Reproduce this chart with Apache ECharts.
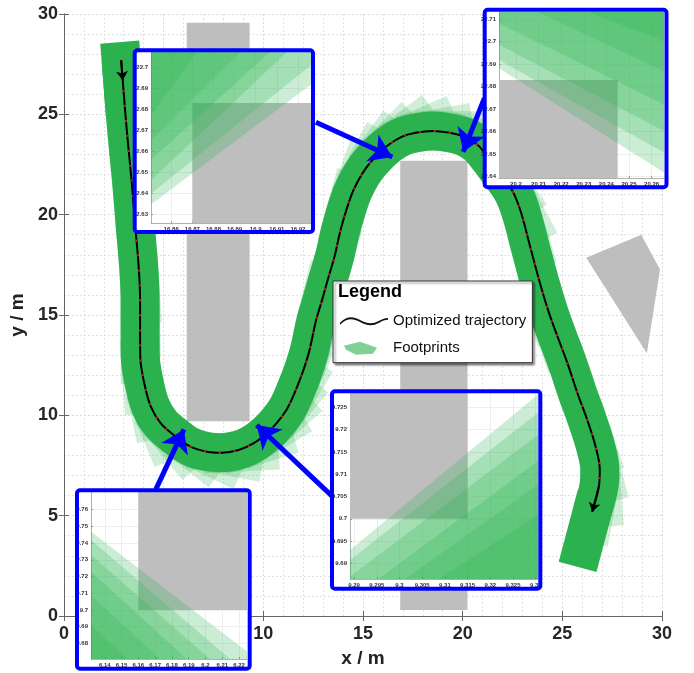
<!DOCTYPE html>
<html>
<head>
<meta charset="utf-8">
<title>Optimized trajectory and footprints</title>
<script src="https://cdn.jsdelivr.net/npm/echarts@6/dist/echarts.min.js"></script>
<style>
  html, body { margin: 0; padding: 0; background: #fff; }
  #chart { width: 694px; height: 673px; }
</style>
</head>
<body>
<div id="chart"></div>
<script>
// Trajectory samples in metres, from the top-left start.
const trajX = [2.87, 2.95, 3.08, 3.23, 3.42, 3.58, 3.75, 3.82, 3.82, 3.83, 4.03, 4.36, 4.86, 5.61,
  6.35, 7.18, 7.93, 8.76, 9.5, 10.17, 10.66, 11.16, 11.49, 11.83, 12.07, 12.32, 12.65, 12.9,
  13.23, 13.57, 13.9, 14.39, 14.73, 15.14, 15.64, 16.27, 16.97, 17.71, 18.49, 19.29, 20.08,
  20.7, 21.08, 21.75, 22.52, 22.94, 23.43, 23.93, 24.34, 24.76, 25.26, 25.76, 26.25, 26.67,
  26.88, 26.83, 26.5];
const trajY = [27.7, 26.7, 25.05, 23.39, 21.39, 19.4, 17.4, 15.75, 14.42, 12.92, 11.6, 10.43, 9.6, 8.94,
  8.44, 8.19, 8.14, 8.27, 8.6, 9.1, 9.6, 10.27, 10.93, 11.76, 12.42, 13.26, 14.75, 15.58,
  16.74, 17.9, 19.32, 20.9, 21.64, 22.31, 22.89, 23.47, 23.89, 24.09, 24.17, 24.09, 23.89,
  23.52, 23.12, 22.25, 21.14, 20.07, 18.24, 16.41, 15.08, 13.92, 12.59, 11.1, 9.77, 8.44,
  7.28, 6.44, 5.2];

// Obstacles (polygons, metres).
const obstacles = [
  [[6.16, 9.70], [9.315, 9.70], [9.315, 29.56], [6.16, 29.56]],
  [[16.87, 0.30], [20.245, 0.30], [20.245, 22.683], [16.87, 22.683]],
  [[26.2, 17.85], [28.96, 19.0], [29.9, 17.27], [29.24, 13.09]]
];

const mainTicks = [0, 5, 10, 15, 20, 25, 30];

// Vehicle outline around each trajectory point (metres).
const VEH_REAR = 0.9;
const VEH_FRONT = 2.85;
const VEH_HALF_W = 0.98;

// Callout arrows: [tail at zoom box, arrow tip].
const calloutArrows = [
  [[12.64, 24.61], [16.47, 22.87]],
  [[21.09, 25.81], [20.03, 23.13]],
  [[4.61, 6.31], [6.02, 9.30]],
  [[13.57, 5.86], [9.67, 9.52]]
];

// Zoomed views: axis ranges, tick labels and footprint edges [x1, y1, x2, y2].
const zoom1X = [16.8504, 16.9262];
const zoom1Y = [22.6259, 22.7073];
const zoom1XTicks = [16.86, 16.87, 16.88, 16.89, 16.9, 16.91, 16.92];
const zoom1YTicks = [22.63, 22.64, 22.65, 22.66, 22.67, 22.68, 22.69, 22.7];
const zoom1Edges = [
  [16.8504, 22.6347, 16.9263, 22.6919],
  [16.8504, 22.6400, 16.9263, 22.7011],
  [16.8504, 22.6463, 16.9149, 22.7074],
  [16.8504, 22.6560, 16.9069, 22.7074],
  [16.8504, 22.6650, 16.8927, 22.7074],
  [16.8504, 22.6770, 16.8722, 22.7074]
];

const zoom2X = [20.1925, 20.2655];
const zoom2Y = [22.6394, 22.7132];
const zoom2XTicks = [20.2, 20.21, 20.22, 20.23, 20.24, 20.25, 20.26];
const zoom2YTicks = [22.64, 22.65, 22.66, 22.67, 22.68, 22.69, 22.7, 22.71];
const zoom2Edges = [
  [20.1925, 22.6882, 20.2659, 22.6416],
  [20.1925, 22.6919, 20.2659, 22.6505],
  [20.1925, 22.6986, 20.2659, 22.6601],
  [20.1925, 22.7082, 20.2659, 22.6719],
  [20.2092, 22.7134, 20.2659, 22.6867],
  [20.2313, 22.7134, 20.2659, 22.7001]
];

const zoom3X = [6.1318, 6.2247];
const zoom3Y = [9.6706, 9.7706];
const zoom3XTicks = [6.14, 6.15, 6.16, 6.17, 6.18, 6.19, 6.2, 6.21, 6.22];
const zoom3YTicks = [9.68, 9.69, 9.7, 9.71, 9.72, 9.73, 9.74, 9.75, 9.76];
const zoom3Edges = [
  [6.1317, 9.7468, 6.2305, 9.6706],
  [6.1317, 9.7419, 6.2146, 9.6706],
  [6.1317, 9.7329, 6.2027, 9.6706],
  [6.1317, 9.7229, 6.1888, 9.6706],
  [6.1317, 9.7089, 6.1729, 9.6706],
  [6.1317, 9.6910, 6.1531, 9.6706]
];

const zoom4X = [9.2891, 9.3305];
const zoom4Y = [9.6865, 9.7282];
const zoom4XTicks = [9.29, 9.295, 9.3, 9.305, 9.31, 9.315, 9.32, 9.325, 9.33];
const zoom4YTicks = [9.69, 9.695, 9.7, 9.705, 9.71, 9.715, 9.72, 9.725];
const zoom4Edges = [
  [9.289, 9.6929, 9.3303, 9.7277],
  [9.289, 9.6907, 9.3303, 9.7236],
  [9.289, 9.6870, 9.3303, 9.7187],
  [9.2952, 9.6864, 9.3303, 9.7128],
  [9.3011, 9.6864, 9.3303, 9.7075],
  [9.3085, 9.6864, 9.3303, 9.7008]
];

const FONT = '"Liberation Sans", Arial, sans-serif';
const GREEN = '#2bb24f';
const GRAY = '#bebebe';
const BLUE = '#0000ff';

// pixel layout of the zoom boxes: plot rect and blue frame
const zoomViews = [
  { x: zoom1X, y: zoom1Y, xt: zoom1XTicks, yt: zoom1YTicks, edges: zoom1Edges, corner: [-1, 1],
    grid: [151, 52, 160, 171], frame: [134.7, 50.3, 178.3, 181.7] },
  { x: zoom2X, y: zoom2Y, xt: zoom2XTicks, yt: zoom2YTicks, edges: zoom2Edges, corner: [1, 1],
    grid: [499, 12, 165, 166], frame: [484.7, 9.7, 181.8, 177.5] },
  { x: zoom3X, y: zoom3Y, xt: zoom3XTicks, yt: zoom3YTicks, edges: zoom3Edges, corner: [-1, -1],
    grid: [91, 492, 156, 167], frame: [77, 490.3, 172.7, 178.4] },
  { x: zoom4X, y: zoom4Y, xt: zoom4XTicks, yt: zoom4YTicks, edges: zoom4Edges, corner: [1, -1],
    grid: [350, 393, 188, 186], frame: [332, 391.2, 208.3, 197.6] }
];

const trajPoints = trajX.map((x, i) => [x, trajY[i]]);
const last = trajX.length - 1;

// Sutherland-Hodgman against one half-plane f(p) >= 0
function clipHalf(poly, f) {
  const res = [];
  for (let i = 0; i < poly.length; i++) {
    const a = poly[i], b = poly[(i + 1) % poly.length];
    const fa = f(a), fb = f(b);
    if (fa >= 0) res.push(a);
    if ((fa >= 0) !== (fb >= 0)) {
      const t = fa / (fa - fb);
      res.push([a[0] + t * (b[0] - a[0]), a[1] + t * (b[1] - a[1])]);
    }
  }
  return res;
}

function clipToView(poly, v) {
  let out = poly;
  out = clipHalf(out, p => p[0] - v.x[0]);
  out = clipHalf(out, p => v.x[1] - p[0]);
  out = clipHalf(out, p => p[1] - v.y[0]);
  out = clipHalf(out, p => v.y[1] - p[1]);
  return out;
}

function viewBox(v) {
  return [[v.x[0], v.y[0]], [v.x[1], v.y[0]], [v.x[1], v.y[1]], [v.x[0], v.y[1]]];
}

// anchor values inside a view so the items are not dropped as out of range
function anchors(xr, yr, n) {
  const c = [(xr[0] + xr[1]) / 2, (yr[0] + yr[1]) / 2];
  return Array.from({ length: n }, () => c.slice());
}

function polygonEl(points, api, fill) {
  if (points.length < 3) return null;
  return { type: 'polygon', shape: { points: points.map(p => api.coord(p)) }, style: { fill: fill } };
}

function obstacleItem(params, api) {
  return polygonEl(obstacles[params.dataIndex], api, GRAY);
}

// one translucent vehicle rectangle per trajectory sample
function footprintItem(params, api) {
  const i = params.dataIndex;
  const a = Math.max(i - 1, 0), b = Math.min(i + 1, last);
  let hx = trajX[b] - trajX[a], hy = trajY[b] - trajY[a];
  const len = Math.hypot(hx, hy);
  hx /= len; hy /= len;
  const px = trajX[i], py = trajY[i];
  const pt = (s, t) => api.coord([px + hx * s - hy * t, py + hy * s + hx * t]);
  const solid = i === 0 || i === last;
  return {
    type: 'polygon',
    shape: { points: [pt(-VEH_REAR, -VEH_HALF_W), pt(VEH_FRONT, -VEH_HALF_W),
                      pt(VEH_FRONT, VEH_HALF_W), pt(-VEH_REAR, VEH_HALF_W)] },
    style: { fill: GREEN, opacity: solid ? 1 : 0.22 }
  };
}

function zoomObstacleItem(v) {
  return (params, api) => polygonEl(clipToView(obstacles[params.dataIndex], v), api, GRAY);
}

// region on the footprint side of one edge, cut to the zoom window
function zoomLayerItem(v) {
  return (params, api) => {
    const [x1, y1, x2, y2] = v.edges[params.dataIndex];
    const side = (p) => (x2 - x1) * (p[1] - y1) - (y2 - y1) * (p[0] - x1);
    const cx = v.corner[0] < 0 ? v.x[0] : v.x[1];
    const cy = v.corner[1] < 0 ? v.y[0] : v.y[1];
    const s = side([cx, cy]) >= 0 ? 1 : -1;
    const poly = clipHalf(viewBox(v), p => s * side(p));
    return polygonEl(poly, api, 'rgba(43,178,79,0.24)');
  };
}

// white backing and blue frame of each zoom box (pixel layout)
function frameItem(fill, stroke) {
  return (params) => {
    const f = zoomViews[params.dataIndex].frame;
    return {
      type: 'rect',
      shape: { x: f[0], y: f[1], width: f[2], height: f[3], r: 3 },
      style: stroke ? { fill: 'none', stroke: stroke, lineWidth: 4 } : { fill: fill }
    };
  };
}

const grids = [{ left: 59, top: 14, width: 603, height: 602 }];
const xAxes = [
  {
    gridIndex: 0, type: 'value', min: 0, max: 30, interval: 5,
    name: 'x / m', nameLocation: 'middle', nameGap: 33,
    nameTextStyle: { fontFamily: FONT, fontSize: 19, fontWeight: 'bold', color: '#222' },
    axisLine: { lineStyle: { color: '#666' } },
    axisTick: { inside: true, length: 5, lineStyle: { color: '#666' } },
    axisLabel: { customValues: mainTicks, fontFamily: FONT, fontSize: 18, fontWeight: 'bold', color: '#262626', margin: 9 },
    splitLine: { lineStyle: { color: '#dadada', type: [2, 2] } },
    minorTick: { show: false, splitNumber: 5 },
    minorSplitLine: { show: true, lineStyle: { color: '#e2e2e2', type: [2, 2] } }
  },
  {
    gridIndex: 0, type: 'value', position: 'top', min: 0, max: 30, interval: 5,
    axisLine: { lineStyle: { color: '#666' } },
    axisTick: { inside: true, length: 5, lineStyle: { color: '#666' } },
    axisLabel: { show: false }, splitLine: { show: false }
  }
];
const yAxes = [
  {
    gridIndex: 0, type: 'value', min: 0, max: 30, interval: 5,
    name: 'y / m', nameLocation: 'middle', nameGap: 29, nameRotate: 90,
    nameTextStyle: { fontFamily: FONT, fontSize: 19, fontWeight: 'bold', color: '#222' },
    axisLine: { lineStyle: { color: '#666' } },
    axisTick: { inside: true, length: 5, lineStyle: { color: '#666' } },
    axisLabel: { customValues: mainTicks, fontFamily: FONT, fontSize: 18, fontWeight: 'bold', color: '#262626', margin: 6 },
    splitLine: { lineStyle: { color: '#dadada', type: [2, 2] } },
    minorTick: { show: false, splitNumber: 5 },
    minorSplitLine: { show: true, lineStyle: { color: '#e2e2e2', type: [2, 2] } }
  },
  {
    gridIndex: 0, type: 'value', position: 'right', min: 0, max: 30, interval: 5,
    axisLine: { lineStyle: { color: '#666' } },
    axisTick: { inside: true, length: 5, lineStyle: { color: '#666' } },
    axisLabel: { show: false }, splitLine: { show: false }
  }
];

const series = [
  { type: 'custom', name: 'Obstacles', xAxisIndex: 0, yAxisIndex: 0, z: 1, silent: true,
    data: anchors([0, 30], [0, 30], obstacles.length), renderItem: obstacleItem },
  { type: 'line', name: 'Footprints', xAxisIndex: 0, yAxisIndex: 0, z: 2, silent: true,
    data: trajPoints, smooth: 0.35, showSymbol: false,
    lineStyle: { color: GREEN, width: 39, cap: 'butt', join: 'round' } },
  { type: 'custom', name: 'Footprints', xAxisIndex: 0, yAxisIndex: 0, z: 2, silent: true,
    data: trajPoints, encode: { x: 0, y: 1 }, renderItem: footprintItem },
  { type: 'line', name: 'Optimized trajectory', xAxisIndex: 0, yAxisIndex: 0, z: 3, silent: true,
    data: trajPoints, smooth: 0.35, showSymbol: false,
    lineStyle: { color: '#000', width: 2 } },
  { type: 'line', name: 'Optimized trajectory', xAxisIndex: 0, yAxisIndex: 0, z: 3, silent: true,
    data: trajPoints, smooth: 0.35, showSymbol: false,
    lineStyle: { color: '#e8141b', width: 2, type: [2, 13] } },
  { type: 'lines', coordinateSystem: 'cartesian2d', xAxisIndex: 0, yAxisIndex: 0, z: 4, silent: true,
    data: [{ coords: [trajPoints[0], trajPoints[1]] }, { coords: [trajPoints[last - 1], trajPoints[last]] }],
    symbol: ['none', 'arrow'], symbolSize: [0, 9],
    lineStyle: { color: '#000', width: 2, opacity: 1 } },
  { type: 'lines', coordinateSystem: 'cartesian2d', xAxisIndex: 0, yAxisIndex: 0, z: 9, silent: true,
    data: calloutArrows.map(c => ({ coords: c })),
    symbol: ['none', 'arrow'], symbolSize: [0, 22],
    lineStyle: { color: BLUE, width: 5, opacity: 1 } },
  { type: 'custom', xAxisIndex: 0, yAxisIndex: 0, z: 10, silent: true,
    data: anchors([0, 30], [0, 30], zoomViews.length), renderItem: frameItem('#fff', null) },
  { type: 'custom', xAxisIndex: 0, yAxisIndex: 0, z: 15, silent: true,
    data: anchors([0, 30], [0, 30], zoomViews.length), renderItem: frameItem(null, BLUE) }
];

zoomViews.forEach((v, k) => {
  const gi = k + 1;          // grid index of this zoom view
  const ai = k + 2;          // axis index (0 and 1 are the main plot's axes)
  grids.push({ left: v.grid[0], top: v.grid[1], width: v.grid[2], height: v.grid[3] });
  // axes sit between the white backing (z 10) and the zoom marks (z 11)
  const axisCommon = {
    gridIndex: gi, type: 'value', z: 10.5,
    axisLine: { lineStyle: { color: '#b0b0b0' } },
    splitLine: { show: true, lineStyle: { color: '#eeeeee' } }
  };
  xAxes.push(Object.assign({}, axisCommon, {
    min: v.x[0], max: v.x[1],
    axisTick: { inside: true, length: 2, customValues: v.xt, lineStyle: { color: '#999' } },
    axisLabel: { customValues: v.xt, fontFamily: FONT, fontSize: 6, fontWeight: 'bold', color: '#333', margin: 3 }
  }));
  yAxes.push(Object.assign({}, axisCommon, {
    min: v.y[0], max: v.y[1],
    axisTick: { inside: true, length: 2, customValues: v.yt, lineStyle: { color: '#999' } },
    axisLabel: { customValues: v.yt, fontFamily: FONT, fontSize: 6, fontWeight: 'bold', color: '#333', margin: 3 }
  }));
  series.push(
    { type: 'custom', xAxisIndex: ai, yAxisIndex: ai, z: 11, silent: true,
      data: anchors(v.x, v.y, obstacles.length), renderItem: zoomObstacleItem(v) },
    { type: 'custom', xAxisIndex: ai, yAxisIndex: ai, z: 11, silent: true,
      data: anchors(v.x, v.y, v.edges.length), renderItem: zoomLayerItem(v) }
  );
});

const chart = echarts.init(document.getElementById('chart'), null, { renderer: 'canvas' });
chart.setOption({
  animation: false,
  backgroundColor: '#fff',
  grid: grids,
  xAxis: xAxes,
  yAxis: yAxes,
  legend: {
    orient: 'vertical', left: 333, top: 281, z: 20,
    padding: [32, 6, 7, 7], itemGap: 11, itemWidth: 48, itemHeight: 16,
    backgroundColor: '#fff', borderColor: '#333', borderWidth: 1,
    shadowColor: 'rgba(0,0,0,0.45)', shadowBlur: 2, shadowOffsetX: 2, shadowOffsetY: 2,
    selectedMode: false,
    textStyle: { fontFamily: FONT, fontSize: 15, color: '#111' },
    data: [
      { name: 'Optimized trajectory', itemStyle: { color: '#111' },
        icon: 'path://M0,0 L0.01,0 L0,0.01 Z M48,16 L47.99,16 L48,15.99 Z M0,10 C7,3 13,3 20,7 C27,11 33,12 40,8 C43,6 46,5 49,5 L49,7 C46,7 43,8 40,10 C33,14 27,13 20,9 C13,5 7,5 0,12 Z' },
      { name: 'Footprints', itemStyle: { color: 'rgba(43,178,79,0.6)' },
        icon: 'path://M0,0 L0.01,0 L0,0.01 Z M48,16 L47.99,16 L48,15.99 Z M4,6 L20,2 L37,8 L33,14 L16,15 L6,10 Z' }
    ]
  },
  graphic: [{
    type: 'text', left: 338, top: 283, z: 30, silent: true,
    style: { text: 'Legend', font: 'bold 18px ' + FONT, fill: '#000' }
  }],
  series: series
});
</script>
</body>
</html>
